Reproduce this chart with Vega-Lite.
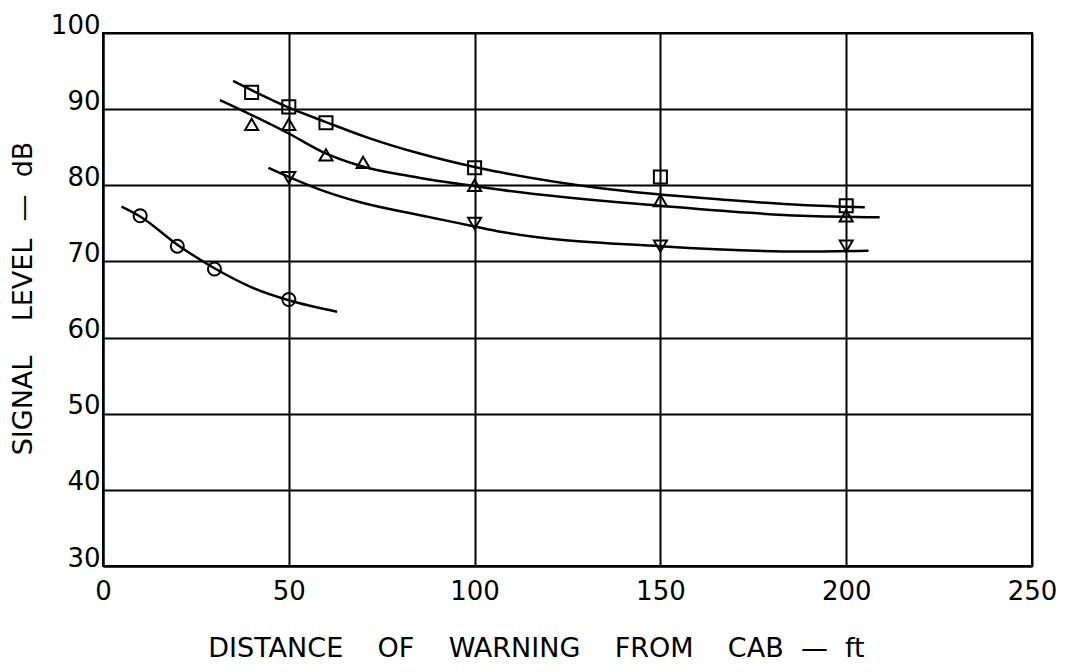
{
  "$schema": "https://vega.github.io/schema/vega-lite/v6.json",
  "width": 929,
  "height": 533,
  "autosize": {"type": "none"},
  "padding": {"left": 103, "top": 33, "right": 39, "bottom": 106},
  "background": "white",
  "config": {
    "view": {"stroke": "black", "strokeWidth": 2},
    "axis": {
      "grid": true,
      "gridColor": "black",
      "gridWidth": 2,
      "gridOpacity": 1,
      "ticks": false,
      "domain": true,
      "domainColor": "black",
      "domainWidth": 2,
      "labelFont": "DejaVu Sans",
      "labelFontSize": 26,
      "labelColor": "black",
      "labelFlush": false,
      "labelOverlap": false,
      "titleFont": "DejaVu Sans",
      "titleFontSize": 27,
      "titleFontWeight": "normal",
      "titleColor": "black"
    }
  },
  "datasets": {
    "points": [
      {"series": "circle", "distance": 10, "level": 76},
      {"series": "circle", "distance": 20, "level": 72},
      {"series": "circle", "distance": 30, "level": 69},
      {"series": "circle", "distance": 50, "level": 65},
      {"series": "square", "distance": 40, "level": 92.2},
      {"series": "square", "distance": 50, "level": 90.3},
      {"series": "square", "distance": 60, "level": 88.2},
      {"series": "square", "distance": 100, "level": 82.3},
      {"series": "square", "distance": 150, "level": 81.1},
      {"series": "square", "distance": 200, "level": 77.3},
      {"series": "triangle", "distance": 40, "level": 88},
      {"series": "triangle", "distance": 50, "level": 88},
      {"series": "triangle", "distance": 60, "level": 84},
      {"series": "triangle", "distance": 70, "level": 83},
      {"series": "triangle", "distance": 100, "level": 80},
      {"series": "triangle", "distance": 150, "level": 78},
      {"series": "triangle", "distance": 200, "level": 76},
      {"series": "inverted", "distance": 50, "level": 81},
      {"series": "inverted", "distance": 100, "level": 75},
      {"series": "inverted", "distance": 150, "level": 72},
      {"series": "inverted", "distance": 200, "level": 72}
    ],
    "curves": [
      {"series": "circle", "distance": 5, "level": 77.2},
      {"series": "circle", "distance": 10, "level": 75.9},
      {"series": "circle", "distance": 20, "level": 72.2},
      {"series": "circle", "distance": 30, "level": 69.1},
      {"series": "circle", "distance": 40, "level": 66.6},
      {"series": "circle", "distance": 50, "level": 64.9},
      {"series": "circle", "distance": 63, "level": 63.4},
      {"series": "square", "distance": 35, "level": 93.7},
      {"series": "square", "distance": 50, "level": 90.2},
      {"series": "square", "distance": 60, "level": 88.3},
      {"series": "square", "distance": 71, "level": 86.3},
      {"series": "square", "distance": 85, "level": 84.2},
      {"series": "square", "distance": 100, "level": 82.4},
      {"series": "square", "distance": 107, "level": 81.7},
      {"series": "square", "distance": 134, "level": 79.6},
      {"series": "square", "distance": 170, "level": 78},
      {"series": "square", "distance": 188, "level": 77.4},
      {"series": "square", "distance": 205, "level": 77.1},
      {"series": "triangle", "distance": 31.5, "level": 91.2},
      {"series": "triangle", "distance": 50, "level": 86.8},
      {"series": "triangle", "distance": 59, "level": 84.4},
      {"series": "triangle", "distance": 69, "level": 82.6},
      {"series": "triangle", "distance": 85, "level": 81},
      {"series": "triangle", "distance": 100, "level": 79.9},
      {"series": "triangle", "distance": 107, "level": 79.4},
      {"series": "triangle", "distance": 150, "level": 77.3},
      {"series": "triangle", "distance": 188, "level": 76},
      {"series": "triangle", "distance": 209, "level": 75.8},
      {"series": "inverted", "distance": 44.5, "level": 82.3},
      {"series": "inverted", "distance": 50, "level": 81.1},
      {"series": "inverted", "distance": 58, "level": 79.5},
      {"series": "inverted", "distance": 69, "level": 77.8},
      {"series": "inverted", "distance": 85, "level": 76.1},
      {"series": "inverted", "distance": 100, "level": 74.6},
      {"series": "inverted", "distance": 107, "level": 73.9},
      {"series": "inverted", "distance": 150, "level": 72},
      {"series": "inverted", "distance": 188, "level": 71.3},
      {"series": "inverted", "distance": 206, "level": 71.4}
    ]
  },
  "layer": [
    {
      "data": {"name": "curves"},
      "mark": {"type": "line", "interpolate": "monotone", "color": "black", "strokeWidth": 2.5},
      "encoding": {
        "x": {
          "field": "distance",
          "type": "quantitative",
          "scale": {"domain": [0, 250], "nice": false, "zero": false},
          "axis": {
            "values": [0, 50, 100, 150, 200, 250],
            "labelPadding": 12,
            "title": "DISTANCE\u00a0\u00a0\u00a0\u00a0OF\u00a0\u00a0\u00a0\u00a0WARNING\u00a0\u00a0\u00a0\u00a0FROM\u00a0\u00a0\u00a0\u00a0CAB\u00a0\u00a0—\u00a0\u00a0ft",
            "titleX": 433,
            "titleY": 82,
            "titleBaseline": "middle"
          }
        },
        "y": {
          "field": "level",
          "type": "quantitative",
          "scale": {"domain": [30, 100], "nice": false, "zero": false},
          "axis": {
            "values": [30, 40, 50, 60, 70, 80, 90, 100],
            "labelPadding": 3,
            "labelBaseline": "alphabetic",
            "title": "SIGNAL\u00a0\u00a0\u00a0\u00a0LEVEL\u00a0\u00a0—\u00a0\u00a0dB",
            "titleX": -80,
            "titleY": 265,
            "titleBaseline": "middle"
          }
        },
        "detail": {"field": "series"}
      }
    },
    {
      "data": {"name": "points"},
      "mark": {"type": "point", "filled": false, "stroke": "black", "strokeWidth": 2, "size": 170, "opacity": 1},
      "encoding": {
        "x": {"field": "distance", "type": "quantitative"},
        "y": {"field": "level", "type": "quantitative"},
        "shape": {
          "field": "series",
          "type": "nominal",
          "scale": {"domain": ["circle", "square", "triangle", "inverted"], "range": ["circle", "square", "triangle-up", "triangle-down"]},
          "legend": null
        }
      }
    }
  ]
}
